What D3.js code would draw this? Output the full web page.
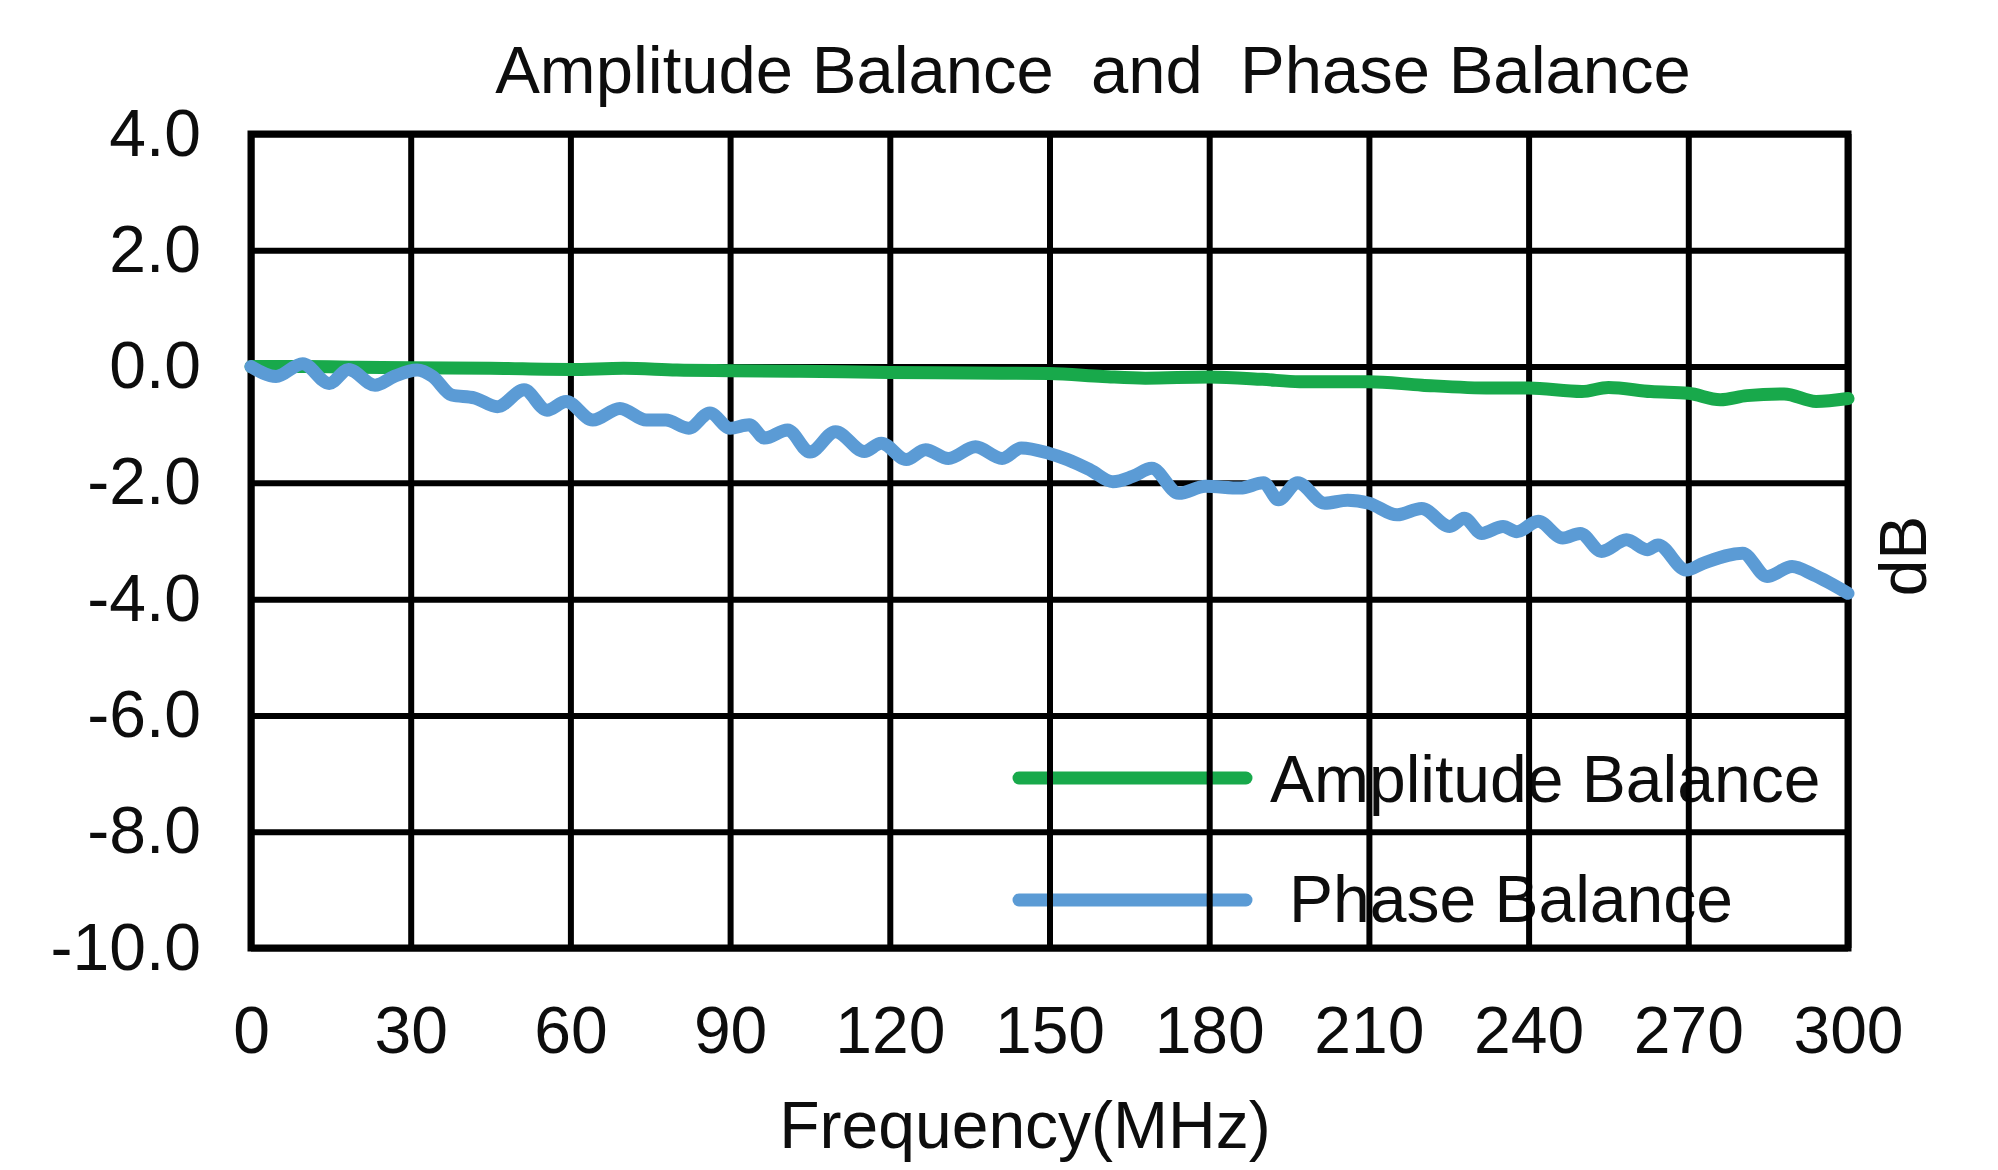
<!DOCTYPE html>
<html>
<head>
<meta charset="utf-8">
<script src="https://cdn.jsdelivr.net/npm/d3@7"></script>
<style>
  html, body { margin: 0; padding: 0; background: #ffffff; overflow: hidden; }
  svg { display: block; }
  text { font-family: "Liberation Sans", Arial, sans-serif; fill: #0d0d0d; }
</style>
</head>
<body>
<script>
// ---------------- data ----------------
const xTicks = [0, 30, 60, 90, 120, 150, 180, 210, 240, 270, 300];
const xTickLabels = ["0", "30", "60", "90", "120", "150", "180", "210", "240", "270", "300"];
const yTicks = [4, 2, 0, -2, -4, -6, -8, -10];
const yTickLabels = ["4.0", "2.0", "0.0", "-2.0", "-4.0", "-6.0", "-8.0", "-10.0"];

const seriesNames = ["Amplitude Balance", "Phase Balance"];

const ampFreq = [0, 10, 20, 30, 45, 60, 70, 80, 90, 103, 120, 135, 150, 160, 168, 180, 190, 197,
  210, 220, 233, 240, 250, 255, 263, 270, 276, 281, 288, 294, 300];
const ampValues = [0.0, 0.0, -0.01, -0.02, -0.03, -0.05, -0.03, -0.06, -0.07, -0.08, -0.1, -0.11,
  -0.12, -0.17, -0.2, -0.18, -0.22, -0.26, -0.26, -0.32, -0.37, -0.37, -0.43, -0.36, -0.43,
  -0.46, -0.57, -0.5, -0.47, -0.6, -0.55];

const phaseFreq = [0, 4.7, 9.7, 14.7, 18.3, 23.3, 26.9, 31.2, 34.1, 37.7, 42, 46.3, 51.3, 55.6,
  59.2, 64.2, 69.3, 74.3, 77.9, 82.2, 86.2, 90, 93.6, 96.5, 100.8, 105, 109.8, 115.2, 118.4,
  123.1, 126.7, 131, 136.1, 141.1, 144.7, 149.8, 153.4, 157.7, 161.9, 165.6, 169.2, 174.3,
  179.3, 185.8, 190.2, 193, 196.6, 201.7, 206, 210, 215.3, 219.9, 225.2, 227.9, 231.2, 235.2,
  237.8, 241.8, 246.4, 249.7, 253.7, 258.4, 262.3, 264.3, 269.6, 272.9, 280.2, 284.8, 289.5,
  293.5, 300];
const phaseValues = [0.0, -0.17, 0.05, -0.29, -0.05, -0.32, -0.17, -0.06, -0.17, -0.49, -0.54,
  -0.69, -0.4, -0.75, -0.6, -0.92, -0.72, -0.92, -0.92, -1.06, -0.8, -1.06, -1.0, -1.23, -1.09,
  -1.47, -1.12, -1.46, -1.32, -1.6, -1.43, -1.58, -1.38, -1.58, -1.4, -1.49, -1.6, -1.78, -1.98,
  -1.89, -1.75, -2.18, -2.06, -2.09, -2.0, -2.29, -2.0, -2.35, -2.3, -2.35, -2.55, -2.44, -2.75,
  -2.61, -2.87, -2.75, -2.84, -2.66, -2.95, -2.87, -3.18, -2.98, -3.15, -3.07, -3.5, -3.38,
  -3.21, -3.61, -3.44, -3.58, -3.9];

// ---------------- layout ----------------
const W = 1998, H = 1170;
const plot = { left: 251, right: 1848, top: 134, bottom: 948 };
const colors = { amp: "#18a94b", phase: "#5b9bd5", grid: "#000000" };
const FS = 66;

const svg = d3.select("body").append("svg")
  .attr("width", W).attr("height", H)
  .attr("viewBox", `0 0 ${W} ${H}`);

svg.append("rect").attr("width", W).attr("height", H).attr("fill", "#ffffff");

const x = d3.scaleLinear().domain([0, 300]).range([plot.left, plot.right]);
const y = d3.scaleLinear().domain([-10, 4]).range([plot.bottom, plot.top]);

// title
svg.append("text")
  .attr("x", 1093).attr("y", 93)
  .attr("text-anchor", "middle")
  .attr("xml:space", "preserve")
  .style("white-space", "pre")
  .style("font-size", "67px")
  .text("Amplitude Balance  and  Phase Balance");

// legend (drawn beneath the grid, as in the reference)
const legend = svg.append("g");
const legendItems = [
  { name: seriesNames[0], color: colors.amp, ly: 778, tx: 1270, ty: 802 },
  { name: seriesNames[1], color: colors.phase, ly: 900, tx: 1289, ty: 922 }
];
legendItems.forEach(it => {
  legend.append("line")
    .attr("x1", 1019).attr("x2", 1246)
    .attr("y1", it.ly).attr("y2", it.ly)
    .attr("stroke", it.color).attr("stroke-width", 13)
    .attr("stroke-linecap", "round");
  legend.append("text")
    .attr("x", it.tx).attr("y", it.ty)
    .style("font-size", FS + "px")
    .text(it.name);
});

// axes with full-length grid lines
const gx = svg.append("g")
  .attr("transform", `translate(0,${plot.bottom})`)
  .call(d3.axisBottom(x)
    .tickValues(xTicks)
    .tickFormat((d, i) => xTickLabels[i])
    .tickSizeInner(-(plot.bottom - plot.top))
    .tickSizeOuter(0)
    .tickPadding(58));
gx.select(".domain").remove();
gx.selectAll(".tick line").attr("stroke", colors.grid).attr("stroke-width", 6);
gx.selectAll(".tick text")
  .attr("fill", "#0d0d0d")
  .style("font-size", FS + "px")
  .style("font-family", '"Liberation Sans", Arial, sans-serif');

const gy = svg.append("g")
  .attr("transform", `translate(${plot.left},0)`)
  .call(d3.axisLeft(y)
    .tickValues(yTicks)
    .tickFormat((d, i) => yTickLabels[i])
    .tickSizeInner(-(plot.right - plot.left))
    .tickSizeOuter(0)
    .tickPadding(50));
gy.select(".domain").remove();
gy.selectAll(".tick line").attr("stroke", colors.grid).attr("stroke-width", 6);
gy.selectAll(".tick text")
  .attr("fill", "#0d0d0d")
  .style("font-size", FS + "px")
  .style("font-family", '"Liberation Sans", Arial, sans-serif');

// plot border
svg.append("rect")
  .attr("x", plot.left).attr("y", plot.top)
  .attr("width", plot.right - plot.left).attr("height", plot.bottom - plot.top)
  .attr("fill", "none").attr("stroke", colors.grid).attr("stroke-width", 7);

// data lines
const line = d3.line()
  .x(d => x(d[0])).y(d => y(d[1]))
  .curve(d3.curveMonotoneX);

svg.append("path")
  .datum(ampFreq.map((f, i) => [f, ampValues[i]]))
  .attr("d", line)
  .attr("fill", "none").attr("stroke", colors.amp)
  .attr("stroke-width", 13).attr("stroke-linejoin", "round").attr("stroke-linecap", "round");

svg.append("path")
  .datum(phaseFreq.map((f, i) => [f, phaseValues[i]]))
  .attr("d", line)
  .attr("fill", "none").attr("stroke", colors.phase)
  .attr("stroke-width", 13).attr("stroke-linejoin", "round").attr("stroke-linecap", "round");

// axis titles
svg.append("text")
  .attr("x", 1025).attr("y", 1148)
  .attr("text-anchor", "middle")
  .style("font-size", FS + "px")
  .text("Frequency(MHz)");

svg.append("text")
  .attr("transform", "translate(1926,556) rotate(-90)")
  .attr("text-anchor", "middle")
  .style("font-size", FS + "px")
  .text("dB");
</script>
</body>
</html>
